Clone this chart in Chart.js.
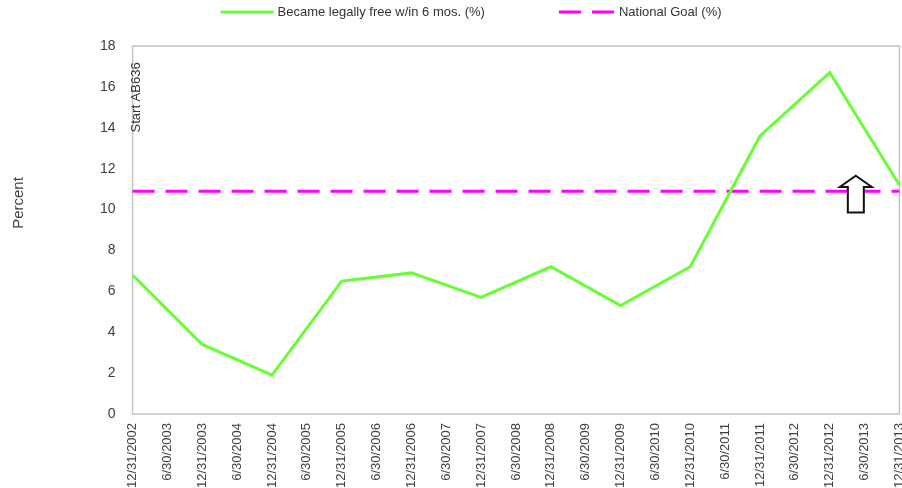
<!DOCTYPE html>
<html>
<head>
<meta charset="utf-8">
<script src="https://cdn.jsdelivr.net/npm/chart.js@4.4.1/dist/chart.umd.min.js"></script>
<style>
    html, body { margin: 0; padding: 0; background: #fff; overflow: hidden; }
    #wrap { position: absolute; left: 0; top: 0; width: 924px; height: 488px; }
</style>
</head>
<body>
<div id="wrap"><canvas id="freeChart"></canvas></div>
<script>
const categories = [
    '12/31/2002', '6/30/2003', '12/31/2003', '6/30/2004', '12/31/2004', '6/30/2005',
    '12/31/2005', '6/30/2006', '12/31/2006', '6/30/2007', '12/31/2007', '6/30/2008',
    '12/31/2008', '6/30/2009', '12/31/2009', '6/30/2010', '12/31/2010', '6/30/2011',
    '12/31/2011', '6/30/2012', '12/31/2012', '6/30/2013', '12/31/2013'
]
// reported once a year, on 12/31
const legallyFree = [
    6.8, null, 3.4, null, 1.9, null, 6.5, null, 6.9, null, 5.7, null,
    7.2, null, 5.3, null, 7.2, null, 13.6, null, 16.7, null, 11.2
]
const nationalGoal = 10.9
const yTicks = [0, 2, 4, 6, 8, 10, 12, 14, 16, 18]

const textColor = '#404040'

// frame around the plot, plus the notes drawn over it
const extras = {
    id: 'extras',
    beforeDatasetsDraw(chart) {
        const {ctx, chartArea: a} = chart
        ctx.save()
        ctx.strokeStyle = '#c4c4c4'
        ctx.lineWidth = 1.5
        ctx.strokeRect(a.left, a.top, a.right - a.left, a.bottom - a.top)
        ctx.restore()
    },
    afterDatasetsDraw(chart) {
        const {ctx, scales: {x, y}} = chart
        ctx.save()

        // AB636 start marker text
        ctx.fillStyle = '#333'
        ctx.font = '13px "Liberation Sans", Arial, sans-serif'
        ctx.translate(x.getPixelForValue(0) + 4, y.getPixelForValue(17.2))
        ctx.rotate(-Math.PI / 2)
        ctx.textAlign = 'right'
        ctx.textBaseline = 'middle'
        ctx.fillText('Start AB636', 0, 0)
        ctx.restore()

        // up arrow near the end of the series
        ctx.save()
        const cx = (x.getPixelForValue(20) + 3 * x.getPixelForValue(21)) / 4
        const tip = y.getPixelForValue(11.65)
        const base = y.getPixelForValue(11.1)
        const foot = y.getPixelForValue(9.85)
        ctx.beginPath()
        ctx.moveTo(cx, tip)
        ctx.lineTo(cx + 16, base)
        ctx.lineTo(cx + 8, base)
        ctx.lineTo(cx + 8, foot)
        ctx.lineTo(cx - 8, foot)
        ctx.lineTo(cx - 8, base)
        ctx.lineTo(cx - 16, base)
        ctx.closePath()
        ctx.fillStyle = '#fff'
        ctx.fill()
        ctx.strokeStyle = '#111'
        ctx.lineWidth = 2
        ctx.stroke()
        ctx.restore()

        // y axis title
        ctx.save()
        ctx.fillStyle = textColor
        ctx.font = '15px "Liberation Sans", Arial, sans-serif'
        ctx.translate(19, 203)
        ctx.rotate(-Math.PI / 2)
        ctx.textAlign = 'center'
        ctx.textBaseline = 'middle'
        ctx.fillText('Percent', 0, 0)
        ctx.restore()

        // legend across the top
        ctx.save()
        ctx.font = '13px "Liberation Sans", Arial, sans-serif'
        ctx.textBaseline = 'middle'
        ctx.fillStyle = '#333'
        const ly = 12
        let lx = chart.chartArea.left + 88
        const lineLens = [53, 56]
        chart.data.datasets.forEach((ds, i) => {
            ctx.strokeStyle = ds.borderColor
            ctx.lineWidth = ds.borderWidth
            ctx.setLineDash(ds.borderDash || [])
            ctx.beginPath()
            ctx.moveTo(lx, ly)
            ctx.lineTo(lx + lineLens[i], ly)
            ctx.stroke()
            ctx.setLineDash([])
            lx += lineLens[i] + 4
            ctx.fillText(ds.label, lx, ly)
            lx += ctx.measureText(ds.label).width + 74
        })
        ctx.restore()
    }
}

new Chart(document.getElementById('freeChart'), {
    type: 'line',
    data: {
        labels: categories,
        datasets: [{
            label: 'Became legally free w/in 6 mos. (%)',
            data: legallyFree,
            borderColor: '#66FF33',
            borderWidth: 3,
            pointRadius: 0,
            tension: 0,
            spanGaps: true,
        }, {
            label: 'National Goal (%)',
            data: categories.map(() => nationalGoal),
            borderColor: '#FF00FF',
            borderWidth: 3,
            borderDash: [22, 11],
            pointRadius: 0,
            tension: 0,
        }]
    },
    options: {
        responsive: true,
        maintainAspectRatio: false,
        animation: false,
        layout: {
            padding: {top: 46, left: 83, right: 0, bottom: -9}
        },
        plugins: {
            legend: {display: false},
            tooltip: {enabled: false},
        },
        scales: {
            x: {
                type: 'category',
                offset: false,
                grid: {display: false, drawTicks: false},
                border: {display: false},
                ticks: {
                    autoSkip: false,
                    maxRotation: 90,
                    minRotation: 90,
                    padding: 9,
                    color: textColor,
                    font: {size: 13, family: '"Liberation Sans", Arial, sans-serif'},
                },
            },
            y: {
                min: 0,
                max: 18,
                afterBuildTicks(scale) {
                    scale.ticks = yTicks.map(v => ({value: v}))
                },
                grid: {display: false, drawTicks: false},
                border: {display: false},
                ticks: {
                    padding: 17,
                    color: textColor,
                    font: {size: 14, family: '"Liberation Sans", Arial, sans-serif'},
                },
            }
        }
    },
    plugins: [extras]
})
</script>
</body>
</html>
